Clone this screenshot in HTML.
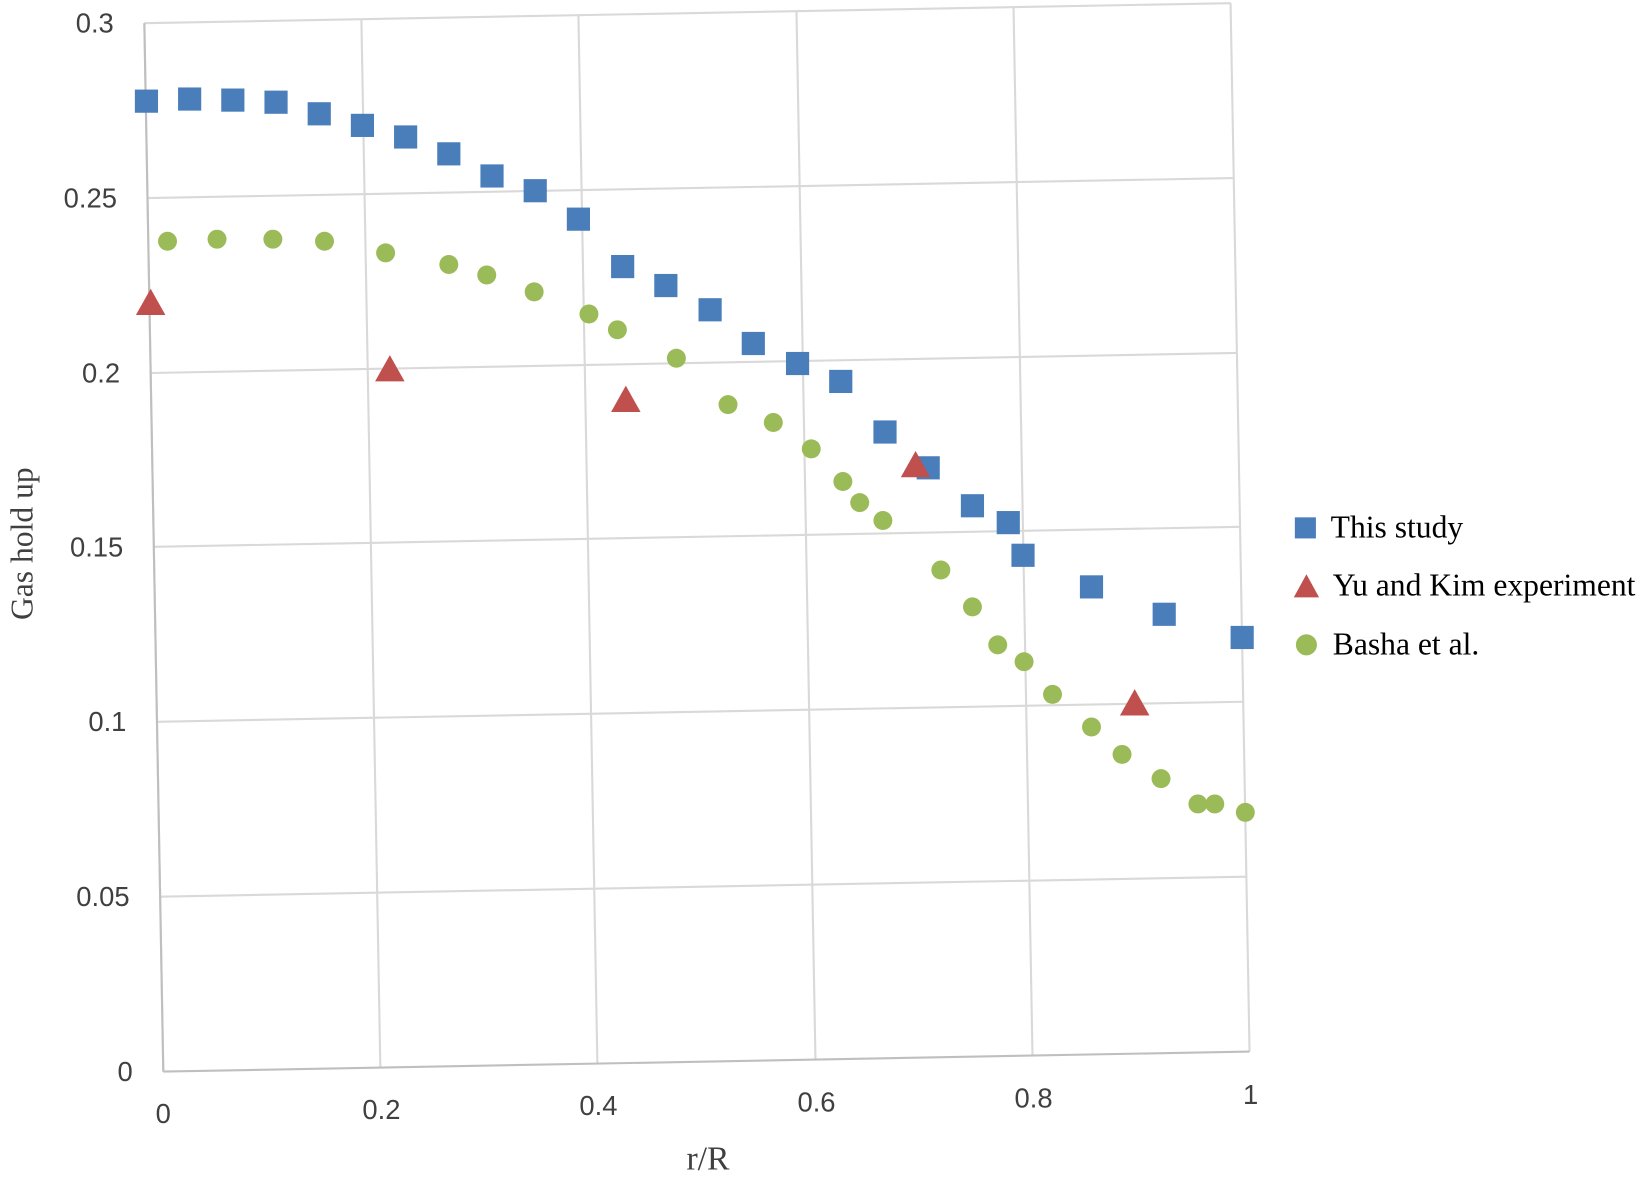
<!DOCTYPE html>
<html><head><meta charset="utf-8"><style>
html,body{margin:0;padding:0;background:#fff;overflow:hidden;}
svg{display:block;}
.t{font-family:"Liberation Sans",sans-serif;font-size:26px;fill:#404040;}
.s{font-family:"Liberation Serif",serif;fill:#000;}
</style></head><body>
<svg width="1652" height="1178" viewBox="0 0 1568 1118" preserveAspectRatio="none" xmlns="http://www.w3.org/2000/svg">
<g stroke="#d9d9d9" stroke-width="2" fill="none">
<line x1="137" y1="22" x2="155" y2="1017"/>
<line x1="343" y1="18" x2="361" y2="1013"/>
<line x1="549" y1="14" x2="567" y2="1009"/>
<line x1="756" y1="11" x2="774" y2="1006"/>
<line x1="962" y1="7" x2="980" y2="1002"/>
<line x1="1168" y1="3" x2="1186" y2="998"/>
<line x1="137" y1="22" x2="1168" y2="3"/>
<line x1="140" y1="188" x2="1171" y2="169"/>
<line x1="143" y1="354" x2="1174" y2="335"/>
<line x1="146" y1="519" x2="1177" y2="500"/>
<line x1="149" y1="685" x2="1180" y2="666"/>
<line x1="152" y1="851" x2="1183" y2="832"/>
</g>
<line x1="155" y1="1017" x2="1186" y2="998" stroke="#bfbfbf" stroke-width="2"/>
<line x1="137" y1="22" x2="155" y2="1017" stroke="#bfbfbf" stroke-width="2"/>
<g class="t" text-anchor="end">
<text x="108" y="31">0.3</text>
<text x="111" y="197">0.25</text>
<text x="114" y="363">0.2</text>
<text x="117" y="528">0.15</text>
<text x="120" y="694">0.1</text>
<text x="123" y="860">0.05</text>
<text x="126" y="1026">0</text>
</g>
<g class="t" text-anchor="middle">
<text x="155" y="1066">0</text>
<text x="362" y="1062">0.2</text>
<text x="568" y="1058">0.4</text>
<text x="775" y="1055">0.6</text>
<text x="981" y="1051">0.8</text>
<text x="1187" y="1048">1</text>
</g>
<text class="s" x="672" y="1110" font-size="32" text-anchor="middle" fill="#404040" style="fill:#404040">r/R</text>
<text class="s" x="0" y="0" font-size="30" text-anchor="middle" style="fill:#404040" transform="translate(31,516) rotate(-90)">Gas hold up</text>
<g fill="#4a7ebb">
<rect x="128" y="85" width="22" height="22"/><rect x="169" y="83" width="22" height="22"/><rect x="210" y="84" width="22" height="22"/><rect x="251" y="86" width="22" height="22"/><rect x="292" y="97" width="22" height="22"/><rect x="333" y="108" width="22" height="22"/><rect x="374" y="119" width="22" height="22"/><rect x="415" y="135" width="22" height="22"/><rect x="456" y="156" width="22" height="22"/><rect x="497" y="170" width="22" height="22"/><rect x="538" y="197" width="22" height="22"/><rect x="580" y="242" width="22" height="22"/><rect x="621" y="260" width="22" height="22"/><rect x="663" y="283" width="22" height="22"/><rect x="704" y="315" width="22" height="22"/><rect x="746" y="334" width="22" height="22"/><rect x="787" y="351" width="22" height="22"/><rect x="829" y="399" width="22" height="22"/><rect x="870" y="433" width="22" height="22"/><rect x="912" y="469" width="22" height="22"/><rect x="946" y="485" width="22" height="22"/><rect x="960" y="516" width="22" height="22"/><rect x="1025" y="546" width="22" height="22"/><rect x="1094" y="572" width="22" height="22"/><rect x="1168" y="594" width="22" height="22"/>
<rect x="1229" y="491" width="20" height="20"/>
</g>
<g fill="#c0504d">
<polygon points="143,274 157,299 129,299"/><polygon points="370,337 384,362 356,362"/><polygon points="594,366 608,391 580,391"/><polygon points="869,428 883,453 855,453"/><polygon points="1077,654 1091,679 1063,679"/>
<polygon points="1240,545 1252,567 1228,567"/>
</g>
<g fill="#9bbb59">
<circle cx="159" cy="229" r="9"/><circle cx="206" cy="227" r="9"/><circle cx="259" cy="227" r="9"/><circle cx="308" cy="229" r="9"/><circle cx="366" cy="240" r="9"/><circle cx="426" cy="251" r="9"/><circle cx="462" cy="261" r="9"/><circle cx="507" cy="277" r="9"/><circle cx="559" cy="298" r="9"/><circle cx="586" cy="313" r="9"/><circle cx="642" cy="340" r="9"/><circle cx="691" cy="384" r="9"/><circle cx="734" cy="401" r="9"/><circle cx="770" cy="426" r="9"/><circle cx="800" cy="457" r="9"/><circle cx="816" cy="477" r="9"/><circle cx="838" cy="494" r="9"/><circle cx="893" cy="541" r="9"/><circle cx="923" cy="576" r="9"/><circle cx="947" cy="612" r="9"/><circle cx="972" cy="628" r="9"/><circle cx="999" cy="659" r="9"/><circle cx="1036" cy="690" r="9"/><circle cx="1065" cy="716" r="9"/><circle cx="1102" cy="739" r="9"/><circle cx="1137" cy="763" r="9"/><circle cx="1153" cy="763" r="9"/><circle cx="1182" cy="771" r="9"/>
<circle cx="1240" cy="612" r="10"/>
</g>
<g class="s" font-size="30">
<text x="1263" y="510">This study</text>
<text x="1265" y="565">Yu and Kim experiment</text>
<text x="1265" y="621">Basha et al.</text>
</g>
</svg>
</body></html>
